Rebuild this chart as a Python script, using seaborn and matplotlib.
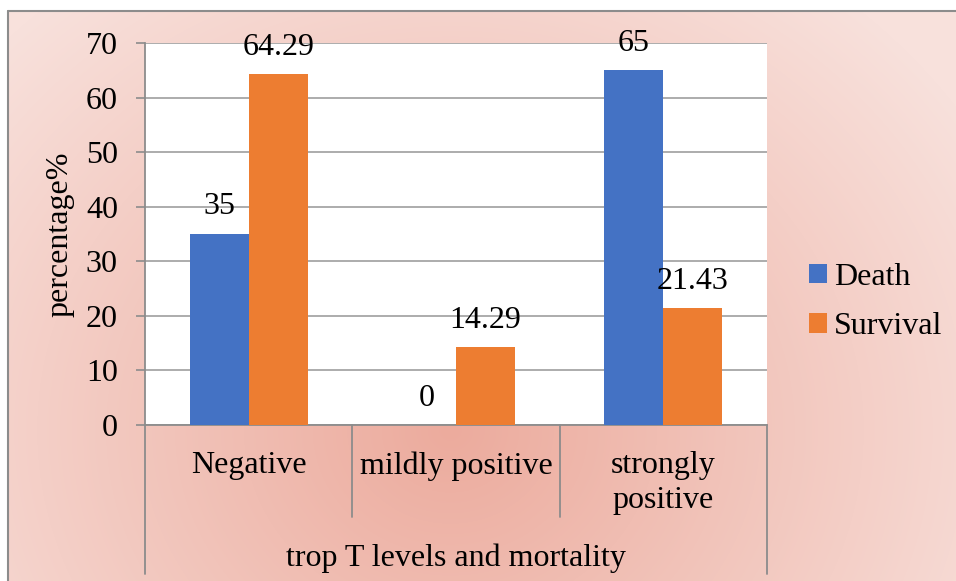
import numpy as np
import pandas as pd
import matplotlib
matplotlib.use('Agg')
import matplotlib.pyplot as plt
import matplotlib.colors as mcolors
import seaborn as sns

# data
levels = ['Negative', 'mildly positive', 'strongly\npositive']
death = [35, 0, 65]
survival = [64.29, 14.29, 21.43]
series = ['Death', 'Survival']
yticks = [0, 10, 20, 30, 40, 50, 60, 70]

df = pd.DataFrame({
    'level': levels * 2,
    'pct': death + survival,
    'outcome': [series[0]] * 3 + [series[1]] * 3,
})

sns.set_theme(style='white')
plt.rcParams['font.family'] = ['Liberation Serif', 'DejaVu Serif']
plt.rcParams['text.color'] = 'black'
plt.rcParams['axes.labelcolor'] = 'black'
plt.rcParams['xtick.labelcolor'] = 'black'
plt.rcParams['ytick.labelcolor'] = 'black'
FS = 23

W, H = 956, 581
fig = plt.figure(figsize=(W / 100, H / 100), dpi=100)
fig.patch.set_facecolor('white')

# gradient background like the office chart area
bg = fig.add_axes([0, 0, 1, 1], zorder=-5)
bg.set_xlim(0, W)
bg.set_ylim(H, 0)
bg.axis('off')
xx, yy = np.meshgrid(np.arange(8, W), np.arange(11, H))
d = np.sqrt(((xx - 450) / 620.0) ** 2 + ((yy - 430) / 560.0) ** 2).clip(0, 1)
c_mid = np.array(mcolors.to_rgb('#ecab9d'))
c_edge = np.array(mcolors.to_rgb('#f8e1dc'))
img = c_mid[None, None, :] * (1 - d[..., None]) + c_edge[None, None, :] * d[..., None]
bg.imshow(img, extent=(8, W, H, 11), aspect='auto', interpolation='bilinear')
bg.plot([8, W], [11, 11], color='#8c8c8c', lw=1.5)
bg.plot([8, 8], [11, H], color='#8c8c8c', lw=1.5)

ax = fig.add_axes([145 / W, 1 - 425 / H, (767 - 145) / W, (425 - 43) / H])
ax.set_facecolor('white')

sns.barplot(data=df, x='level', y='pct', hue='outcome', order=levels,
            palette=['#4472C4', '#ED7D31'], width=0.57, saturation=1,
            linewidth=0, ax=ax, zorder=3)

for cont in ax.containers:
    ax.bar_label(cont, fmt='%g', padding=9, fontsize=FS, color='black')

ax.set_ylim(0, 70)
ax.set_yticks(yticks)
ax.set_xlim(-0.5, 2.5)
ax.yaxis.grid(True, color='#a6a6a6', lw=1.3, zorder=0)
ax.set_axisbelow(True)
for s in ['top', 'right']:
    ax.spines[s].set_visible(False)
for s in ['left', 'bottom']:
    ax.spines[s].set_color('#8c8c8c')
    ax.spines[s].set_linewidth(1.3)

ax.tick_params(axis='y', which='both', left=True, length=6.5, width=1.2,
               color='#8c8c8c', labelcolor='black', pad=13, labelsize=FS)
ax.tick_params(axis='x', bottom=False, pad=13, labelcolor='black', labelsize=FS)
ax.set_xticks(range(len(levels)))
ax.set_xticklabels(levels, linespacing=1.24)

# category divider lines below the axis
tr = ax.get_xaxis_transform()
for xv, ylow in [(-0.5, -0.39), (0.5, -0.241), (1.5, -0.241), (2.5, -0.39)]:
    ax.plot([xv, xv], [0, ylow], transform=tr, color='#8c8c8c', lw=1.3,
            clip_on=False)

ax.set_ylabel('percentage%', fontsize=FS, labelpad=8, color='black')
ax.set_xlabel('trop T levels and mortality', fontsize=FS, color='black')
ax.xaxis.set_label_coords(0.5, -0.31)

leg = ax.legend(title=None, frameon=False, loc='center left',
                bbox_to_anchor=(1.068, 0.322), borderaxespad=0, borderpad=0,
                handlelength=0.55, handleheight=0.55, handletextpad=0.22,
                labelspacing=0.64, fontsize=FS)
for t in leg.get_texts():
    t.set_color('black')

fig.savefig('out.png', dpi=100, facecolor=fig.get_facecolor())
